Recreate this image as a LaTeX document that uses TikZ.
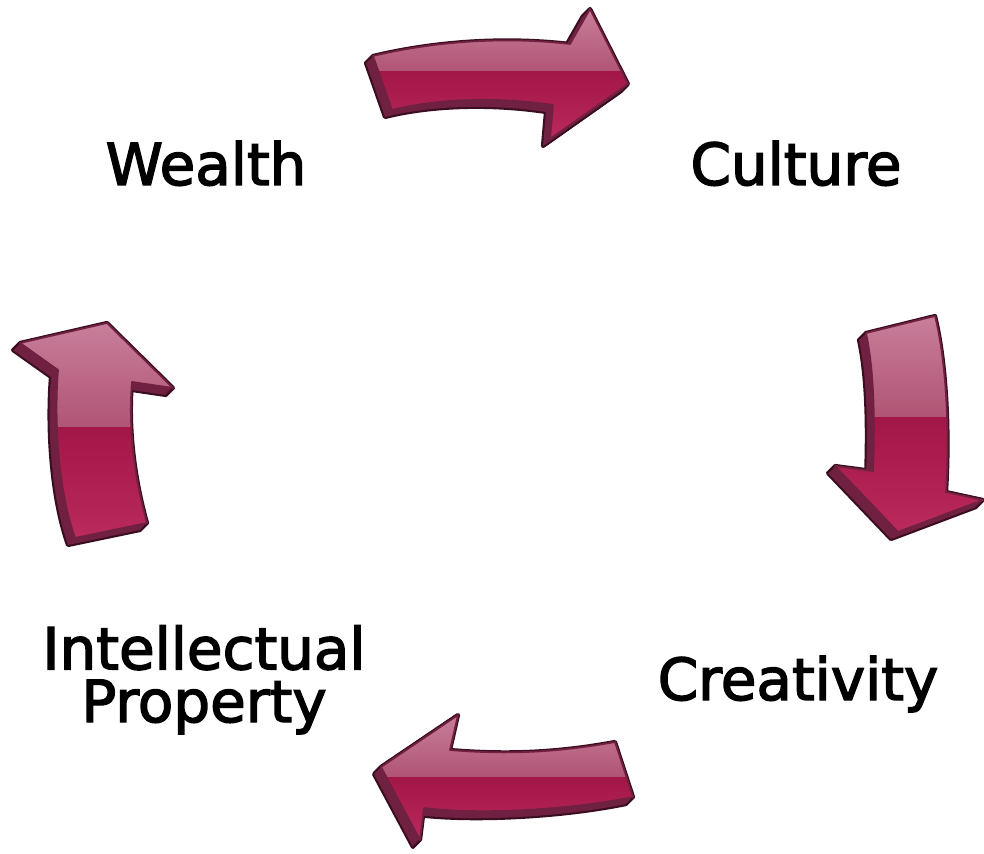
\documentclass[tikz,border=0pt]{standalone}
\usepackage{fontspec}
\setmainfont{DejaVu Sans}
\newfontfamily\stagefont{DejaVu Sans}[FakeBold=2.5]

\definecolor{glosstop}{RGB}{200,126,154}
\definecolor{glossmid}{RGB}{176,84,116}
\definecolor{crimsonmid}{RGB}{163,22,72}
\definecolor{crimsonlow}{RGB}{186,42,92}
\definecolor{arrowside}{RGB}{112,32,64}
\definecolor{arrowedge}{RGB}{58,14,32}

\tikzset{
  stage/.style={font=\stagefont\fontsize{33}{30}\selectfont, align=center, inner sep=0pt},
  rim/.style={draw=arrowedge, line width=2.4pt, line join=round},
}

% #1 outline, #2 top, #3 gloss line, #4 bottom
\newcommand\glossyarrow[4]{%
  \foreach \d in {0,...,7} \draw[rim, shift={(-\d,\d)}] #1;
  \foreach \d in {0,...,7} \fill[arrowside, shift={(-\d,\d)}] #1;
  \begin{scope}
    \clip #1;
    \shade[top color=glosstop, bottom color=glossmid] (0,#2) rectangle (984,#3);
    \shade[top color=crimsonmid, bottom color=crimsonlow] (0,#3) rectangle (984,#4);
  \end{scope}
  \draw[arrowside, line width=1pt, line join=round] #1;
}

\begin{document}
\begin{tikzpicture}[x=0.02cm, y=-0.02cm]
    \useasboundingbox (0,0) rectangle (984,854);
    % Arrows
    \glossyarrow{(373,56) .. controls (440,40) and (510,37) .. (570,44) -- (590,9) -- (628,84) -- (550,139) -- (553,105) .. controls (500,97) and (440,98) .. (392,110) -- cycle}{9}{72}{139}
    \glossyarrow{(866,333) -- (935,316) .. controls (946,360) and (950,430) .. (946,492) -- (983,500) -- (898,532) -- (835,466) -- (873,471) .. controls (875,420) and (874,370) .. (866,333) -- cycle}{316}{418}{532}
    \glossyarrow{(381,767) -- (458,715) -- (450,750) .. controls (510,755) and (560,752) .. (615,742) -- (633,797) .. controls (570,810) and (480,815) .. (424,808) -- (420,840) -- cycle}{715}{777}{840}
    \glossyarrow{(107,323) -- (173,388) -- (132,382) .. controls (128,430) and (135,480) .. (147,523) -- (75,538) .. controls (58,490) and (54,420) .. (58,370) -- (20,343) -- cycle}{323}{428}{538}
    % Labels
    \node[stage, anchor=base] (wealth) at (206,185) {Wealth};
    \node[stage, anchor=base] (culture) at (796,185) {Culture};
    \node[stage, anchor=base] (creativity) at (798,700) {Creativity};
    \node[stage, anchor=base] (ip) at (204,722) {Intellectual\\Property};
\end{tikzpicture}
\end{document}
